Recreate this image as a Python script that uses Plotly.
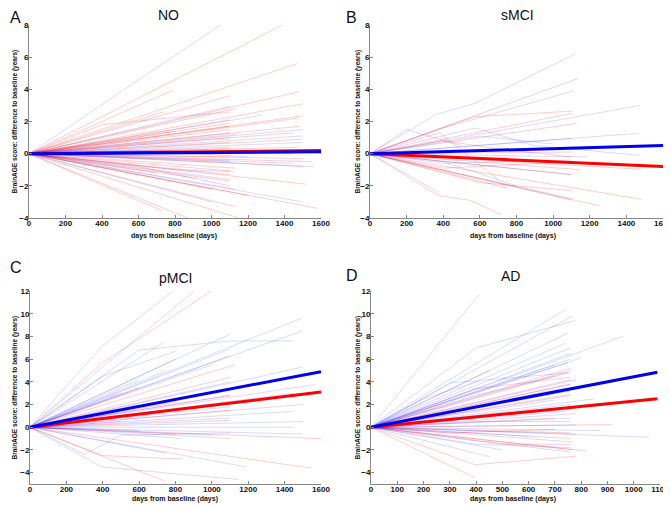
import plotly.graph_objects as go

# Subject trajectories: each subject starts at (0, 0) (baseline), then visits (day, BrainAGE change)
no_red = [
    [(1390, 8.0)], [(1470, 5.6)], [(790, 3.95)], [(1480, 3.85)], [(1500, 3.1)],
    [(1100, 3.6)], [(740, 2.6)], [(1500, 2.35)], [(1130, 2.8)], [(1470, 2.2)],
    [(400, 1.8), (1100, 2.6)], [(1480, 1.7)], [(1100, 1.9)], [(1100, 1.5)], [(1130, 1.2)],
    [(1500, 0.9)], [(1100, 0.7)], [(1480, 0.4)], [(1100, 0.3)], [(1550, -0.5)],
    [(1500, -0.8)], [(1100, -0.5)], [(1130, -0.9)], [(1100, -1.3)], [(1520, -1.9)],
    [(1200, -2.6)], [(1130, -3.3)], [(1580, -3.4)], [(730, -3.55)], [(870, -4.0)],
    [(1150, -4.0)], [(1000, -2.2)], [(1100, -1.7)], [(600, -0.8), (1100, -2.0)], [(1450, 0.0)],
    [(700, -1.2)], [(1100, 1.0)], [(1500, -0.3)], [(1100, 2.1)], [(900, -1.5)],
    [(1100, 1.7)], [(1450, 1.3)], [(1100, -0.2)], [(800, 1.4)], [(1120, -1.1)],
]
no_blue = [
    [(1050, 8.0)], [(1280, 2.4)], [(1100, 2.95)], [(1500, 1.5)], [(1500, 1.1)],
    [(1500, 0.7)], [(1560, -0.8)], [(1500, -3.0)], [(1130, -2.2)], [(1100, -1.6)],
    [(1100, 0.4)], [(1100, -0.4)], [(800, -1.0), (1100, -1.1)], [(1100, 1.3)],
    [(600, 0.2), (1200, -0.2)], [(1000, -3.0)], [(1450, -0.6)],
]
smci_red = [
    [(1138, 4.68)], [(570, 2.3), (1111, 2.65)], [(1129, 1.89)],
    [(373, -2.6), (546, -2.9), (719, -3.8)], [(1248, -3.23)], [(1481, -2.84)],
    [(1100, -2.8)], [(1100, -1.3)], [(1150, -1.0)], [(380, 1.3), (700, -1.6)],
    [(1481, -0.97)], [(755, -2.15)], [(400, -0.9), (1100, -0.5)], [(1100, 0.1)],
    [(600, -1.8), (1100, -2.3)], [(400, 0.8), (700, 0.3), (1100, -0.2)], [(1100, 2.5)],
    [(200, 1.5), (500, 0.5)],
]
smci_blue = [
    [(364, 2.45), (574, 3.13), (1120, 6.2)], [(400, 1.6), (1110, 3.9)], [(1475, 3.0)],
    [(1462, 1.26)], [(574, 1.6), (900, 0.5), (1470, -0.1)], [(370, -2.36)],
    [(1102, -2.9)], [(1102, 0.95)], [(1100, -1.3)], [(1190, -0.2)],
    [(400, -0.6), (1100, -0.4)], [(400, -0.5), (800, -2.0)], [(600, 1.1), (1000, 0.6)],
]
pmci_red = [
    [(400, 5.7), (998, 12.0)], [(1126, 5.5)], [(1100, 4.4)], [(1600, -1.0)],
    [(1544, -3.6)], [(400, -2.5), (840, -2.8)], [(742, -4.75)], [(600, 3.5)],
    [(1100, 0.6)], [(800, 2.2)], [(1100, 2.8)], [(500, 0.5)], [(800, -0.6)], [(1100, 1.5)],
]
pmci_blue = [
    [(394, 7.1), (788, 12.0)], [(903, 12.0)], [(1493, 9.6)], [(1498, 8.5)], [(1099, 8.2)],
    [(600, 6.8), (1100, 7.6), (1447, 7.6)], [(738, 7.5)], [(1100, 6.9)], [(1500, 5.3)],
    [(1100, 6.3)], [(1566, 3.75)], [(1500, 2.0)], [(1450, 1.4)], [(1500, 0.5)],
    [(1500, -0.6)], [(1450, 0.0)], [(1190, -3.5)], [(394, -3.5), (1145, -4.6)],
    [(300, -2.4), (500, -0.7), (1100, -0.5)], [(830, -1.0)], [(1100, -1.0)], [(800, 6.0)],
    [(750, 5.0)], [(1100, 4.0)], [(600, 4.2)], [(1100, 3.3)], [(500, 3.0)], [(800, 2.5)],
    [(1100, 1.8)], [(700, 1.2)], [(1100, 0.8)], [(600, -0.3)], [(1000, -0.7)],
    [(750, -2.3)], [(1100, 2.8)], [(400, 4.5), (800, 6.7)], [(1000, 5.5)], [(1450, 3.0)],
    [(600, 2.0)],
]
ad_red = [
    [(396, -4.45)], [(396, -3.3), (779, -2.55)], [(820, -2.1)], [(916, 0.23)],
    [(750, 4.8)], [(780, 4.2)], [(760, 3.8)], [(770, -2.0)], [(760, 2.8)], [(760, 1.6)],
    [(760, -0.5)], [(500, -1.5), (760, -1.5)], [(400, 3.4), (760, 4.4)], [(700, 0.8)],
    [(760, -1.0)], [(760, 5.0)], [(300, -0.5), (700, -0.2)],
]
ad_blue = [
    [(412, 11.7)], [(742, 10.4)], [(767, 9.8)], [(400, 6.98), (777, 9.4)], [(958, 8.0)],
    [(750, 8.3)], [(740, 7.4)], [(760, 7.0)], [(760, 6.5)], [(800, 6.1)], [(750, 5.7)],
    [(760, 5.2)], [(300, 3.9), (760, 4.8)], [(760, 4.2)], [(740, 3.5)], [(850, 2.5)],
    [(760, 2.9)], [(760, 2.0)], [(740, 1.4)], [(760, 0.8)], [(780, 0.2)], [(870, -0.3)],
    [(1060, -0.88)], [(453, -2.6)], [(770, -1.3)], [(780, -0.6)],
    [(400, -1.5), (760, -1.8)], [(200, 2.5), (400, 4.0)], [(450, 5.0)],
    [(400, 2.8), (700, 4.5)], [(760, 6.0)], [(760, 3.2)], [(400, 0.5), (760, 0.5)],
    [(600, -0.8)], [(760, -2.2)], [(780, 1.2)], [(700, 2.4)], [(760, 3.8)], [(700, 5.5)],
    [(500, -2.0)],
]

# group regression lines: (end day, end value) starting at baseline
fit_red = {"NO": (1600, 0.2), "sMCI": (1600, -0.8), "pMCI": (1600, 3.1), "AD": (1090, 2.5)}
fit_blue = {"NO": (1600, 0.12), "sMCI": (1600, 0.5), "pMCI": (1600, 4.9), "AD": (1090, 4.85)}

# page body keeps an 8px margin, so the figure is sized to end at the window edge
W, H, OFF = 663, 497, 8


def px(x):  # window x pixel -> paper fraction
    return (x - OFF) / W


def py(y):  # window y pixel (from top) -> paper fraction
    return 1 - (y - OFF) / H


panels = [
    # name, letter, red, blue, axis suffix, x px span, y px span, x range, x dtick, y range, y ticks,
    # title pos, letter pos, x-title pos, y-title x
    ("NO", "A", no_red, no_blue, "", (29, 321), (218, 25), [0, 1600], 200, [-4, 8],
     list(range(-4, 9, 2)), (168, 15), (8, 17), (174, 236), 14),
    ("sMCI", "B", smci_red, smci_blue, "2", (370, 663), (218, 25), [0, 1600], 200, [-4, 8],
     list(range(-4, 9, 2)), (517, 15), (351, 17), (513, 236), 357),
    ("pMCI", "C", pmci_red, pmci_blue, "3", (30, 321), (484, 291), [0, 1600], 200, [-5, 12],
     list(range(-4, 13, 2)), (175, 278), (8, 267), (175, 499), 14),
    ("AD", "D", ad_red, ad_blue, "4", (371, 660), (484, 291), [0, 1100], 100, [-5, 12],
     list(range(-4, 13, 2)), (510, 276), (352, 275), (513, 499), 357),
]

FAM = "Liberation Sans, Arial"
tick_font = dict(family=FAM, size=8, color="#111", weight="bold")
fig = go.Figure()

for (name, letter, red, blue, sfx, xs, ys, xr, xdt, yr, yt,
     tpos, lpos, xtpos, ytx) in panels:
    xa, ya = "x" + sfx, "y" + sfx
    for subjects, col in ((red, "rgba(255,0,0,0.2)"), (blue, "rgba(0,0,255,0.15)")):
        for s in subjects:
            fig.add_trace(go.Scatter(
                x=[0] + [p[0] for p in s], y=[0] + [p[1] for p in s],
                mode="lines", line=dict(color=col, width=1),
                xaxis=xa, yaxis=ya, showlegend=False, hoverinfo="skip"))
    for fit, col in ((fit_red[name], "#ff0000"), (fit_blue[name], "#0000ee")):
        fig.add_trace(go.Scatter(
            x=[0, fit[0]], y=[0, fit[1]], mode="lines",
            line=dict(color=col, width=3),
            xaxis=xa, yaxis=ya, showlegend=False))

    axis_common = dict(showline=True, linecolor="#888", linewidth=1, ticks="inside",
                       ticklen=3, tickcolor="#888", showgrid=False, zeroline=False,
                       tickfont=tick_font, automargin=False, ticklabeloverflow="allow")
    fig.update_layout({
        "xaxis" + sfx: dict(axis_common, domain=[px(xs[0]), px(xs[1])], range=xr,
                            dtick=xdt, tick0=0, anchor=ya, ticklabelstandoff=-3),
        "yaxis" + sfx: dict(axis_common, domain=[py(ys[0]), py(ys[1])], range=yr,
                            tickvals=yt, anchor=xa, ticklabelstandoff=-2),
    })

    fig.add_annotation(text=name, x=px(tpos[0]), y=py(tpos[1]), xref="paper", yref="paper",
                       xanchor="center", yanchor="middle", showarrow=False,
                       font=dict(family=FAM, size=14, color="#111"))
    fig.add_annotation(text=letter, x=max(px(lpos[0]), 0), y=py(lpos[1]), xref="paper",
                       yref="paper", xanchor="center" if px(lpos[0]) > 0.02 else "left",
                       yanchor="middle", showarrow=False,
                       font=dict(family=FAM, size=16, color="#111"))
    fig.add_annotation(text="days from baseline (days)", x=px(xtpos[0]), y=py(xtpos[1]),
                       xref="paper", yref="paper", xanchor="center", yanchor="middle",
                       showarrow=False,
                       font=dict(family=FAM, size=7, color="#111", weight="bold"))
    fig.add_annotation(text="BrainAGE score: difference to baseline (years)",
                       x=max(px(ytx), 0.001), y=(py(ys[0]) + py(ys[1])) / 2,
                       xref="paper", yref="paper", xanchor="center", yanchor="middle",
                       textangle=-90, showarrow=False,
                       font=dict(family=FAM, size=6.5, color="#111", weight="bold"))

fig.update_layout(width=W, height=H, margin=dict(l=0, r=0, t=0, b=0),
                  paper_bgcolor="white", plot_bgcolor="white")

fig.write_html("out.html")
